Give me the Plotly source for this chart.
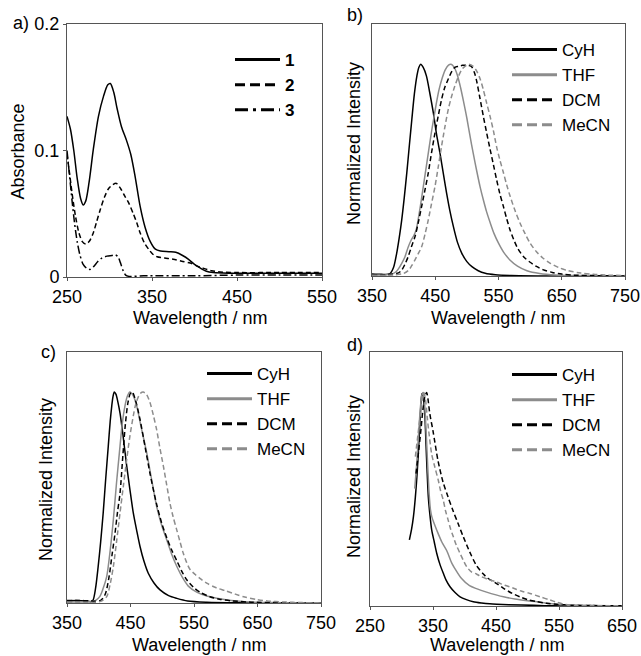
import plotly.graph_objects as go

# ---------------- data ----------------
# panel a : absorbance
wl_a1 = [250, 254, 258, 262, 266, 269, 272, 276, 281, 287, 293, 298, 301, 305, 309, 314, 320, 325, 330, 336, 342, 348, 354, 360, 370, 378, 386, 393, 400, 407, 414, 422, 440, 500, 550]
abs_1 = [0.127, 0.117, 0.100, 0.078, 0.062, 0.057, 0.060, 0.075, 0.101, 0.127, 0.143, 0.152, 0.153, 0.146, 0.133, 0.119, 0.108, 0.097, 0.080, 0.056, 0.039, 0.028, 0.022, 0.0205, 0.020, 0.0195, 0.017, 0.014, 0.010, 0.007, 0.0045, 0.0035, 0.003, 0.003, 0.003]
wl_a2 = [250, 253, 256, 260, 264, 268, 272, 276, 281, 285, 289, 294, 299, 304, 308, 313, 318, 323, 328, 332, 336, 341, 346, 351, 356, 365, 375, 385, 395, 402, 410, 420, 430, 450, 500, 550]
abs_2 = [0.097, 0.082, 0.066, 0.048, 0.035, 0.028, 0.026, 0.028, 0.035, 0.044, 0.053, 0.063, 0.070, 0.073, 0.074, 0.070, 0.064, 0.058, 0.050, 0.043, 0.035, 0.027, 0.022, 0.018, 0.016, 0.015, 0.014, 0.0125, 0.011, 0.009, 0.007, 0.005, 0.004, 0.0035, 0.0035, 0.0035]
wl_a3 = [250, 253, 256, 259, 262, 265, 269, 273, 277, 281, 286, 291, 297, 303, 307, 310, 313, 316, 319, 323, 340, 400, 450, 500, 550]
abs_3 = [0.100, 0.080, 0.060, 0.042, 0.028, 0.018, 0.010, 0.007, 0.006, 0.008, 0.012, 0.015, 0.0165, 0.017, 0.0175, 0.016, 0.011, 0.005, 0.0015, 0.0005, 0.001, 0.001, 0.0015, 0.0015, 0.0015]

# panel b : emission
wl_b_cyh = [350, 365, 378, 384, 389, 393, 397, 401, 405, 409, 413, 417, 421, 424, 427, 431, 436, 441, 447, 452, 457.5, 463, 468, 473, 478.6, 485, 492, 500, 508, 518, 529, 545, 570, 620, 750]
int_b_cyh = [0.01, 0.008, 0.01, 0.04, 0.107, 0.18, 0.265, 0.37, 0.487, 0.615, 0.74, 0.86, 0.945, 0.985, 1.0, 0.985, 0.945, 0.87, 0.77, 0.67, 0.58, 0.48, 0.39, 0.31, 0.234, 0.16, 0.107, 0.068, 0.044, 0.025, 0.013, 0.006, 0.002, 0.0, 0.0]
wl_b_thf = [350, 370, 382, 388, 392, 397, 402, 407, 412, 416, 420, 424, 428, 432, 436, 440, 444, 448, 452, 456, 461, 466, 471, 475, 480, 485, 490, 495, 500, 505, 510, 516, 521, 526, 531, 537, 543, 550, 558, 568, 580, 595, 615, 640, 680, 750]
int_b_thf = [0.005, 0.005, 0.01, 0.02, 0.035, 0.06, 0.09, 0.135, 0.17, 0.19, 0.22, 0.285, 0.36, 0.44, 0.52, 0.6, 0.68, 0.75, 0.82, 0.88, 0.935, 0.975, 0.996, 1.0, 0.985, 0.948, 0.89, 0.82, 0.745, 0.66, 0.58, 0.49, 0.42, 0.36, 0.305, 0.25, 0.2, 0.155, 0.113, 0.076, 0.047, 0.025, 0.012, 0.005, 0.002, 0.0]
wl_b_dcm = [350, 380, 392, 397, 402, 407, 412, 418, 423, 428.6, 434, 439, 444, 449.6, 455, 460, 465, 470.6, 476, 481, 487, 493, 500, 507, 512, 515.5, 520, 526, 531, 536.6, 542, 547, 552, 557.6, 563, 568, 575, 581, 590, 600, 610, 620, 635, 650, 670, 700, 750]
int_b_dcm = [0.005, 0.008, 0.015, 0.028, 0.055, 0.09, 0.135, 0.186, 0.25, 0.33, 0.41, 0.487, 0.58, 0.676, 0.76, 0.834, 0.89, 0.93, 0.965, 0.985, 0.99, 0.995, 0.995, 0.99, 0.96, 0.92, 0.85, 0.755, 0.68, 0.6, 0.525, 0.455, 0.39, 0.33, 0.27, 0.22, 0.165, 0.127, 0.09, 0.065, 0.045, 0.03, 0.017, 0.009, 0.004, 0.002, 0.0]
wl_b_mecn = [350, 385, 400, 408, 413, 418, 423, 428.6, 434, 439, 444, 449.6, 455, 460, 465, 470.6, 476, 481, 487, 492, 497, 503, 510, 516, 521, 526, 531, 536.6, 542, 547, 552, 557.6, 563, 568, 576, 584, 592, 600, 610, 620, 632, 645, 660, 680, 700, 725, 750]
int_b_mecn = [0.003, 0.005, 0.012, 0.028, 0.05, 0.076, 0.105, 0.139, 0.2, 0.265, 0.34, 0.423, 0.52, 0.613, 0.7, 0.787, 0.85, 0.897, 0.945, 0.975, 0.99, 1.0, 0.99, 0.965, 0.93, 0.88, 0.82, 0.755, 0.685, 0.61, 0.55, 0.49, 0.43, 0.38, 0.31, 0.25, 0.2, 0.155, 0.115, 0.085, 0.06, 0.04, 0.025, 0.014, 0.008, 0.004, 0.002]

# panel c : emission
wl_c_cyh = [350, 365, 380, 387, 391, 395, 399, 403, 407, 411, 415, 418, 420.5, 422.5, 424.5, 427, 430, 433.5, 438, 444, 449, 454.4, 460, 465, 471, 478, 487, 496.5, 510, 523, 540, 570, 620, 750]
int_c_cyh = [0.01, 0.012, 0.01, 0.006, 0.014, 0.07, 0.17, 0.29, 0.427, 0.59, 0.744, 0.86, 0.935, 0.98, 1.0, 0.99, 0.955, 0.9, 0.8, 0.65, 0.54, 0.427, 0.34, 0.268, 0.2, 0.141, 0.095, 0.062, 0.035, 0.022, 0.01, 0.004, 0.001, 0.0]
wl_c_thf = [350, 385, 395, 401.5, 407, 412.5, 418, 423, 428, 433.5, 437, 441.3, 445, 449, 454, 459.7, 467, 475.5, 483, 491, 499, 507, 515, 523, 532, 541, 555, 570, 586, 605, 630, 670, 750]
int_c_thf = [0.005, 0.006, 0.012, 0.03, 0.07, 0.125, 0.25, 0.395, 0.57, 0.744, 0.85, 0.935, 0.98, 1.0, 0.985, 0.935, 0.83, 0.713, 0.59, 0.46, 0.37, 0.30, 0.23, 0.173, 0.12, 0.08, 0.05, 0.033, 0.022, 0.013, 0.006, 0.002, 0.0]
wl_c_dcm = [350, 370, 385, 395, 403, 410, 416, 421, 425.6, 429.5, 433.5, 438, 442, 446, 450, 453, 458, 465, 473, 481, 491, 499, 507, 515, 523, 530, 538.5, 549, 560, 575, 590, 610, 640, 700, 750]
int_c_dcm = [0.012, 0.012, 0.01, 0.008, 0.012, 0.04, 0.12, 0.23, 0.33, 0.43, 0.52, 0.7, 0.85, 0.95, 0.995, 1.0, 0.96, 0.87, 0.74, 0.61, 0.47, 0.38, 0.31, 0.25, 0.2, 0.155, 0.11, 0.075, 0.05, 0.03, 0.018, 0.01, 0.004, 0.001, 0.0]
wl_c_mecn = [350, 395, 405, 412.5, 418, 423, 428, 433.5, 439, 444, 449, 454.4, 458, 462, 466, 470, 475, 480.7, 486, 491, 496, 501.7, 507, 512, 517, 522.7, 528, 533, 538, 543.5, 552, 561, 570, 585, 600, 615, 630, 648, 665, 690, 720, 750]
int_c_mecn = [0.003, 0.004, 0.01, 0.03, 0.09, 0.173, 0.29, 0.427, 0.56, 0.68, 0.79, 0.887, 0.94, 0.975, 0.995, 1.0, 0.99, 0.95, 0.89, 0.824, 0.74, 0.65, 0.56, 0.475, 0.41, 0.348, 0.29, 0.237, 0.195, 0.16, 0.135, 0.113, 0.094, 0.072, 0.058, 0.042, 0.028, 0.017, 0.01, 0.005, 0.002, 0.001]

# panel d : emission
wl_d_cyh = [312.5, 316, 319, 322, 325, 327.5, 329.5, 331, 332.5, 334, 335.5, 337.3, 339, 340.5, 342.6, 345, 348, 352, 356, 361, 366.4, 371, 377, 385, 393, 403, 414, 427, 440, 470, 510, 540, 600, 650]
int_d_cyh = [0.31, 0.36, 0.42, 0.51, 0.63, 0.76, 0.87, 0.95, 0.995, 0.99, 0.95, 0.88, 0.75, 0.64, 0.51, 0.43, 0.355, 0.3, 0.246, 0.195, 0.153, 0.12, 0.09, 0.063, 0.043, 0.03, 0.02, 0.014, 0.01, 0.006, 0.003, 0.001, 0.0, 0.0]
wl_d_thf = [321, 324, 327, 330, 332.5, 334, 336, 338, 340, 342, 344, 346, 348, 352, 356, 364, 371.7, 380, 388, 395, 408, 420, 435, 450, 462, 480, 500, 515, 535, 560, 600, 650]
int_d_thf = [0.55, 0.66, 0.8, 0.93, 0.99, 1.0, 0.97, 0.88, 0.76, 0.63, 0.52, 0.45, 0.42, 0.385, 0.355, 0.30, 0.26, 0.2, 0.16, 0.13, 0.095, 0.08, 0.065, 0.052, 0.043, 0.033, 0.025, 0.02, 0.012, 0.005, 0.002, 0.001]
wl_d_dcm = [323, 327, 331, 334, 337, 340, 342, 345, 350, 358, 366, 374, 382, 390, 398, 408, 419, 430, 437, 451, 462, 475, 488, 500, 515, 530, 546, 570, 600, 650]
int_d_dcm = [0.62, 0.72, 0.83, 0.92, 0.98, 1.0, 0.97, 0.9, 0.82, 0.68, 0.58, 0.51, 0.445, 0.385, 0.325, 0.255, 0.19, 0.15, 0.13, 0.105, 0.083, 0.06, 0.043, 0.03, 0.02, 0.013, 0.008, 0.004, 0.002, 0.001]
wl_d_mecn = [322, 326, 330, 333, 335.5, 338, 341, 344, 348, 353, 358.4, 362, 366.4, 370, 374.3, 378, 382.3, 387, 393, 398, 403.5, 411, 419, 425, 437, 451, 464, 477, 490, 504, 520, 535.7, 547, 557, 575, 600, 650]
int_d_mecn = [0.7, 0.8, 0.9, 0.97, 1.0, 0.97, 0.88, 0.8, 0.71, 0.65, 0.589, 0.54, 0.495, 0.445, 0.40, 0.36, 0.324, 0.285, 0.246, 0.215, 0.184, 0.16, 0.15, 0.14, 0.125, 0.112, 0.097, 0.084, 0.07, 0.059, 0.043, 0.028, 0.017, 0.009, 0.004, 0.002, 0.001]

compounds = ["1", "2", "3"]
solvents = ["CyH", "THF", "DCM", "MeCN"]
ticks_a = [250, 350, 450, 550]
ticks_bc = [350, 450, 550, 650, 750]
ticks_d = [250, 350, 450, 550, 650]

# ---------------- styles ----------------
BLACK = "#000000"
GRAY = "#8c8c8c"
FRAME = "#555555"
FONT = "Liberation Sans, Arial, sans-serif"
W, H = 641, 656

solvent_style = {
    "CyH": dict(color=BLACK, dash="solid"),
    "THF": dict(color=GRAY, dash="solid"),
    "DCM": dict(color=BLACK, dash="5px,3px"),
    "MeCN": dict(color=GRAY, dash="5px,3px"),
}
solvent_leg_style = {
    "CyH": dict(color=BLACK, dash="solid"),
    "THF": dict(color=GRAY, dash="solid"),
    "DCM": dict(color=BLACK, dash="10px,5px"),
    "MeCN": dict(color=GRAY, dash="10px,5px"),
}
abs_style = {
    "1": dict(color=BLACK, dash="solid"),
    "2": dict(color=BLACK, dash="5px,3px"),
    "3": dict(color=BLACK, dash="8px,3px,2px,3px"),
}
abs_leg_style = {
    "1": dict(color=BLACK, dash="solid"),
    "2": dict(color=BLACK, dash="10px,5px"),
    "3": dict(color=BLACK, dash="13px,5px,3px,5px"),
}

fig = go.Figure()

def add_line(x, y, xa, ya, style):
    fig.add_trace(go.Scatter(x=x, y=y, xaxis=xa, yaxis=ya, mode="lines",
                             line=dict(width=1.5, shape="spline", smoothing=0.8, **style),
                             showlegend=False, hoverinfo="skip"))

def add_legend_entry(name, xa, ya, legend, style, bold=False):
    label = f"<b>{name}</b>" if bold else name
    fig.add_trace(go.Scatter(x=[None], y=[None], xaxis=xa, yaxis=ya, mode="lines",
                             name=label, legend=legend,
                             line=dict(width=3, **style), showlegend=True))

# panel a
for c, x, y in zip(compounds, [wl_a1, wl_a2, wl_a3], [abs_1, abs_2, abs_3]):
    add_line(x, y, "x", "y", abs_style[c])
    add_legend_entry(c, "x", "y", "legend", abs_leg_style[c], bold=True)

panels = [
    ("x2", "y2", "legend2", [wl_b_cyh, wl_b_thf, wl_b_dcm, wl_b_mecn], [int_b_cyh, int_b_thf, int_b_dcm, int_b_mecn]),
    ("x3", "y3", "legend3", [wl_c_cyh, wl_c_thf, wl_c_dcm, wl_c_mecn], [int_c_cyh, int_c_thf, int_c_dcm, int_c_mecn]),
    ("x4", "y4", "legend4", [wl_d_cyh, wl_d_thf, wl_d_dcm, wl_d_mecn], [int_d_cyh, int_d_thf, int_d_dcm, int_d_mecn]),
]
for xa, ya, lg, xs, ys in panels:
    for s, x, y in zip(solvents, xs, ys):
        add_line(x, y, xa, ya, solvent_style[s])
        add_legend_entry(s, xa, ya, lg, solvent_leg_style[s])

def px_x(p):
    return p / W

def px_y(p):
    return 1 - p / H

axis_common = dict(showline=True, mirror=True, linecolor=FRAME, linewidth=1,
                   showgrid=False, zeroline=False, ticks="outside", ticklen=3,
                   tickcolor=FRAME, tickwidth=1, automargin=False,
                   tickfont=dict(family=FONT, size=18, color=BLACK))

boxes = {
    "a": (67, 322, 24, 277),
    "b": (372, 625, 24, 276),
    "c": (67, 321, 352, 603),
    "d": (370, 622, 352, 606),
}

def xdom(k):
    l, r, t, b = boxes[k]
    return [px_x(l), px_x(r)]

def ydom(k):
    l, r, t, b = boxes[k]
    return [px_y(b), px_y(t)]

noyticks = {**axis_common, "ticks": "", "showticklabels": False}

layout = dict(
    width=W, height=H, autosize=False,
    margin=dict(l=0, r=0, t=0, b=0, pad=0),
    paper_bgcolor="white", plot_bgcolor="white",
    font=dict(family=FONT, size=18, color=BLACK),
    xaxis=dict(domain=xdom("a"), range=[250, 550], tickvals=ticks_a, anchor="y", **axis_common),
    yaxis=dict(domain=ydom("a"), range=[0, 0.2], tickvals=[0, 0.1, 0.2], ticktext=["0", "0.1", "0.2"], anchor="x", **axis_common),
    xaxis2=dict(domain=xdom("b"), range=[350, 750], tickvals=ticks_bc, anchor="y2", **axis_common),
    yaxis2=dict(domain=ydom("b"), range=[0, 1.19], anchor="x2", **noyticks),
    xaxis3=dict(domain=xdom("c"), range=[350, 750], tickvals=ticks_bc, anchor="y3", **axis_common),
    yaxis3=dict(domain=ydom("c"), range=[0, 1.19], anchor="x3", **noyticks),
    xaxis4=dict(domain=xdom("d"), range=[250, 650], tickvals=ticks_d, anchor="y4", **axis_common),
    yaxis4=dict(domain=ydom("d"), range=[0, 1.19], anchor="x4", **noyticks),
)

leg_common = dict(bgcolor="rgba(0,0,0,0)", borderwidth=0, font=dict(family=FONT, size=17, color=BLACK),
                  xanchor="left", yanchor="top", itemwidth=45, tracegroupgap=0, itemclick=False, itemdoubleclick=False)
layout["legend"] = dict(x=px_x(230), y=px_y(42), **leg_common)
layout["legend2"] = dict(x=px_x(507), y=px_y(32), **leg_common)
layout["legend3"] = dict(x=px_x(202), y=px_y(356), **leg_common)
layout["legend4"] = dict(x=px_x(507), y=px_y(357), **leg_common)

fig.update_layout(**layout)

ann = []
def text(t, x, y, angle=0, xanchor="center"):
    ann.append(dict(text=t, x=px_x(x), y=px_y(y), xref="paper", yref="paper", showarrow=False,
                    textangle=angle, xanchor=xanchor, yanchor="middle",
                    font=dict(family=FONT, size=18, color=BLACK)))

text("a)", 21, 23)
text("b)", 355, 15)
text("c)", 48, 352)
text("d)", 355, 345)
text("Absorbance", 17.5, 152, angle=-90)
text("Normalized Intensity", 354, 143, angle=-90)
text("Normalized Intensity", 46, 480, angle=-90)
text("Normalized Intensity", 354, 476, angle=-90)
text("Wavelength / nm", 200, 318)
text("Wavelength / nm", 498, 318)
text("Wavelength / nm", 199, 645)
text("Wavelength / nm", 497, 645)
fig.update_layout(annotations=ann)

fig.write_html("out.html", config={"displayModeBar": False},
               post_script="document.body.style.margin='0px';document.body.style.overflow='hidden';")
